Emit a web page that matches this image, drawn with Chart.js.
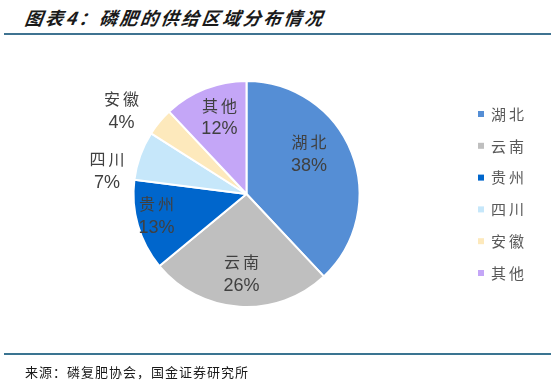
<!DOCTYPE html>
<html>
<head>
<meta charset="utf-8">
<script src="https://cdn.jsdelivr.net/npm/chart.js@4"></script>
<style>
  body { margin: 0; background: #fff; }
  #wrap { position: relative; width: 556px; height: 385px; overflow: hidden; }
  #chart { position: absolute; left: 0; top: 0; }
  .title { position: absolute; left: 25px; top: 4px; font: italic bold 18px "Noto Sans CJK SC"; letter-spacing: 2.5px; color: #1a1a1a; transform: skewX(-8deg); }
  .line1 { position: absolute; left: 4px; top: 33px; width: 547px; height: 1.5px; background: #3f7391; }
  .line2 { position: absolute; left: 4px; top: 353px; width: 547px; height: 2px; background: #3a7491; }
  .src { position: absolute; left: 25px; top: 362px; font: 13px "Noto Sans CJK SC"; letter-spacing: 1px; color: #1a1a1a; }
</style>
</head>
<body>
<div id="wrap">
  <div class="title">图表4：磷肥的供给区域分布情况</div>
  <div class="line1"></div>
  <div style="position:absolute;left:0;top:0;width:556px;height:385px;">
    <canvas id="chart"></canvas>
  </div>
  <div class="line2"></div>
  <div class="src">来源：磷复肥协会，国金证券研究所</div>
</div>
<script>
const regions = ['湖北', '云南', '贵州', '四川', '安徽', '其他'];
const shares = [38, 26, 13, 7, 4, 12];
const sliceColors = ['#558ed5', '#bfbfbf', '#0066cc', '#c6e7fa', '#fde9bc', '#c4a6f7'];
// label nudges from the 0.7R centroid (style only)
const labelNudge = [[-11, -11], [0, 1], [-14, 0], [-65, 4], [-64, -33], [2, -3]];

const labelPlugin = {
  id: 'sliceLabels',
  afterDatasetsDraw(chart) {
    const ctx = chart.ctx;
    const meta = chart.getDatasetMeta(0);
    ctx.save();
    ctx.textAlign = 'center';
    ctx.textBaseline = 'middle';
    ctx.fillStyle = '#404040';
    meta.data.forEach((arc, i) => {
      const mid = (arc.startAngle + arc.endAngle) / 2;
      const r = arc.outerRadius * 0.7;
      const x = arc.x + Math.cos(mid) * r + labelNudge[i][0];
      const y = arc.y + Math.sin(mid) * r + labelNudge[i][1];
      ctx.font = '16px "Noto Sans CJK SC"';
      ctx.letterSpacing = '3px';
      ctx.fillText(regions[i], x + 1.5, y - 12);
      ctx.letterSpacing = '0px';
      ctx.font = '18px "Liberation Sans"';
      ctx.fillText(shares[i] + '%', x, y + 12);
    });
    ctx.restore();
  }
};

const legendPlugin = {
  id: 'sideLegend',
  afterDraw(chart) {
    const ctx = chart.ctx;
    ctx.save();
    ctx.textBaseline = 'middle';
    ctx.font = '15px "Noto Sans CJK SC"';
    ctx.letterSpacing = '3px';
    regions.forEach((name, i) => {
      const y = 114 + i * 31.8;
      ctx.fillStyle = sliceColors[i];
      ctx.fillRect(478, y - 3, 6, 6);
      ctx.fillStyle = '#595959';
      ctx.fillText(name, 491, y);
    });
    ctx.restore();
  }
};

new Chart(document.getElementById('chart'), {
  type: 'pie',
  data: {
    labels: regions,
    datasets: [{
      data: shares,
      backgroundColor: sliceColors,
      borderColor: '#ffffff',
      borderWidth: 2
    }]
  },
  options: {
    responsive: true,
    maintainAspectRatio: false,
    animation: false,
    layout: { padding: { left: 132, top: 80, right: 195, bottom: 77 } },
    plugins: {
      legend: { display: false },
      tooltip: { enabled: false }
    }
  },
  plugins: [labelPlugin, legendPlugin]
});
</script>
</body>
</html>
